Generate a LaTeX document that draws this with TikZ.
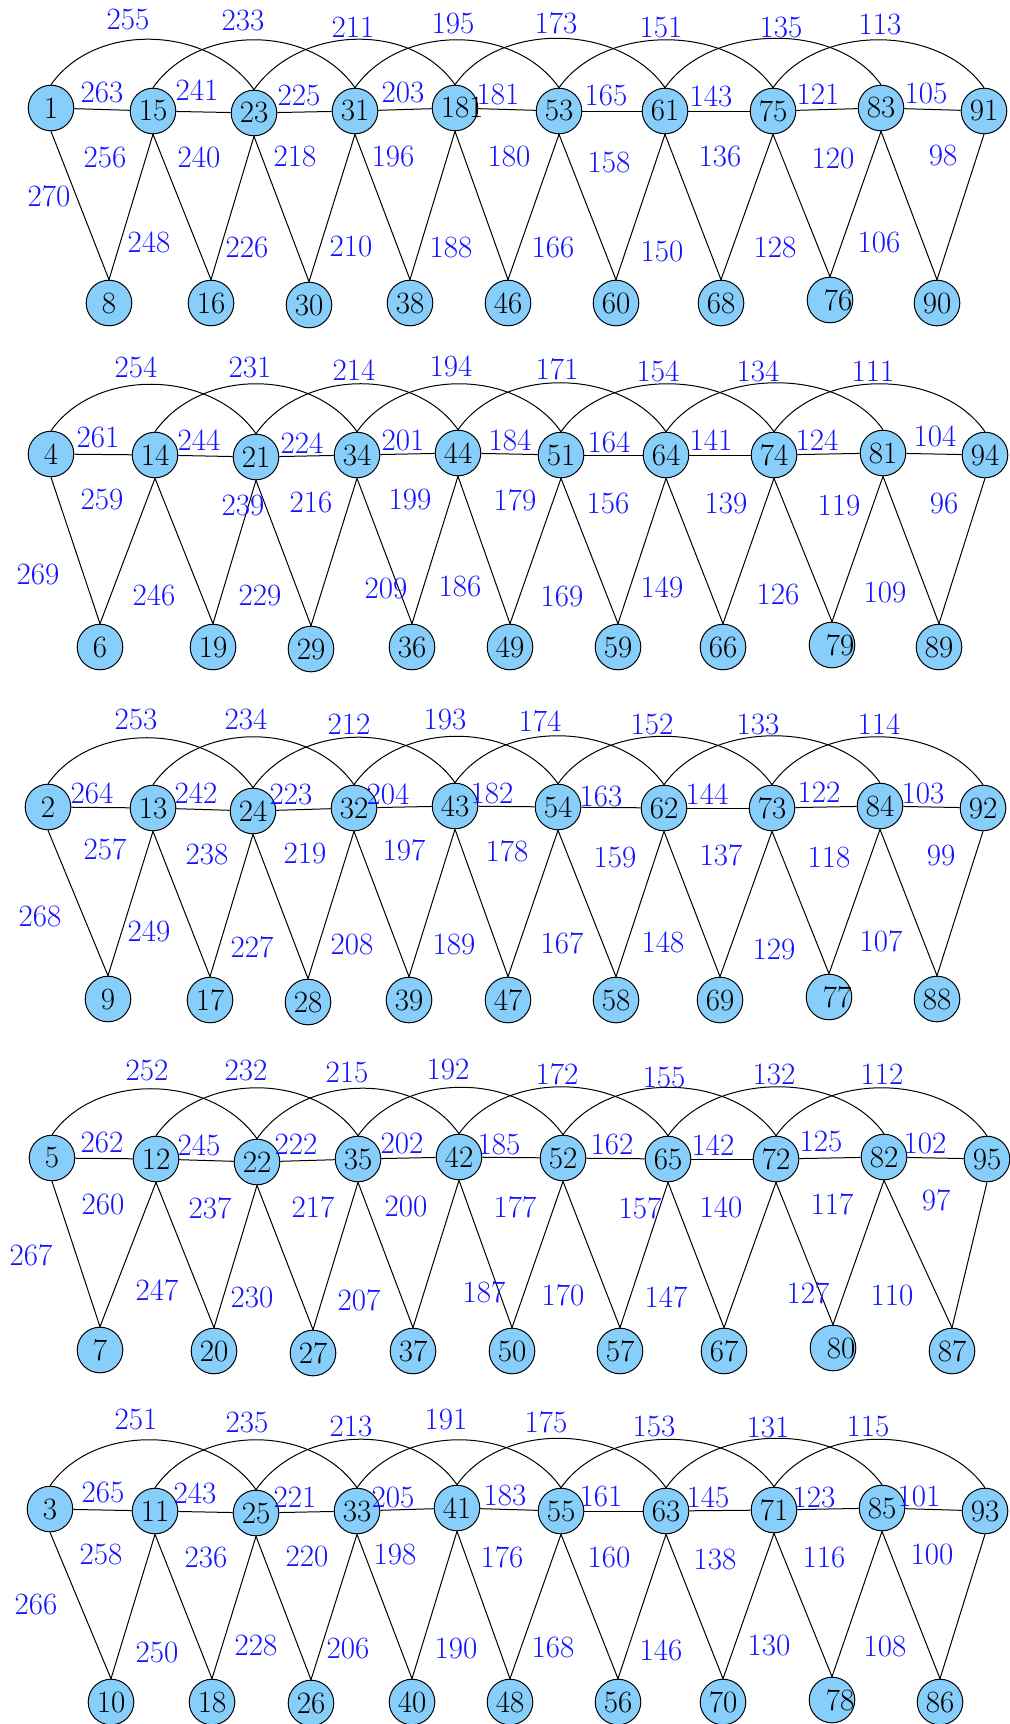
\documentclass[tikz,border=0pt]{standalone}
\usetikzlibrary{backgrounds}
\definecolor{skyb}{RGB}{135,206,250}
\definecolor{lblue}{RGB}{20,20,255}
\tikzset{
  vtx/.style={circle, draw=black, fill=skyb, line width=0.5pt, minimum size=22.8pt, inner sep=0pt, font=\fontsize{15.5}{18}\selectfont},
  lbl/.style={text=lblue, inner sep=0pt, font=\fontsize{15.5}{18}\selectfont},
  conn/.style={line width=0.5pt, black},
}
\newcommand\lab[3]{\node[lbl] (l#3) at (#1,#2) {#3};}
\newcommand\sh[1]{\makebox[0pt]{\kern8pt #1}}
\begin{document}
\begin{tikzpicture}[x=0.5pt,y=-0.5pt]
\useasboundingbox (0,0) rectangle (1009,1724);
% ---------- row 1
\node[vtx] (r1t1) at (51,108) {1};
\node[vtx] (r1t2) at (153,111) {15};
\node[vtx] (r1t3) at (254,113) {23};
\node[vtx] (r1t4) at (355,111) {31};
\node[vtx] (r1t5) at (455,108) {18\rlap{1}};
\node[vtx] (r1t6) at (559,111) {53};
\node[vtx] (r1t7) at (665,111) {61};
\node[vtx] (r1t8) at (773,111) {75};
\node[vtx] (r1t9) at (881,108) {83};
\node[vtx] (r1t10) at (984,111) {91};
\node[vtx] (r1b1) at (109,303) {8};
\node[vtx] (r1b2) at (211,303) {16};
\node[vtx] (r1b3) at (309,305) {30};
\node[vtx] (r1b4) at (410,303) {38};
\node[vtx] (r1b5) at (508,303) {46};
\node[vtx] (r1b6) at (616,303) {60};
\node[vtx] (r1b7) at (721,303) {68};
\node[vtx] (r1b8) at (830,300) {\sh{76}};
\node[vtx] (r1b9) at (937,303) {90};
% ---------- row 2
\node[vtx] (r2t1) at (51,454) {4};
\node[vtx] (r2t2) at (155,455) {14};
\node[vtx] (r2t3) at (256,457) {21};
\node[vtx] (r2t4) at (357,455) {34};
\node[vtx] (r2t5) at (458,453) {44};
\node[vtx] (r2t6) at (561,455) {51};
\node[vtx] (r2t7) at (666,455) {64};
\node[vtx] (r2t8) at (774,455) {74};
\node[vtx] (r2t9) at (883,453) {81};
\node[vtx] (r2t10) at (985,455) {94};
\node[vtx] (r2b1) at (100,647) {6};
\node[vtx] (r2b2) at (213,647) {19};
\node[vtx] (r2b3) at (311,649) {29};
\node[vtx] (r2b4) at (412,647) {36};
\node[vtx] (r2b5) at (510,647) {49};
\node[vtx] (r2b6) at (618,647) {59};
\node[vtx] (r2b7) at (723,647) {66};
\node[vtx] (r2b8) at (832,645) {\sh{79}};
\node[vtx] (r2b9) at (939,647) {89};
% ---------- row 3
\node[vtx] (r3t1) at (48,807) {2};
\node[vtx] (r3t2) at (153,808) {13};
\node[vtx] (r3t3) at (253,811) {24};
\node[vtx] (r3t4) at (354,808) {32};
\node[vtx] (r3t5) at (455,806) {43};
\node[vtx] (r3t6) at (558,807) {54};
\node[vtx] (r3t7) at (664,808) {62};
\node[vtx] (r3t8) at (772,808) {73};
\node[vtx] (r3t9) at (880,806) {84};
\node[vtx] (r3t10) at (983,808) {92};
\node[vtx] (r3b1) at (108,999) {9};
\node[vtx] (r3b2) at (210,1000) {17};
\node[vtx] (r3b3) at (308,1002) {28};
\node[vtx] (r3b4) at (409,1000) {39};
\node[vtx] (r3b5) at (508,1000) {47};
\node[vtx] (r3b6) at (616,1000) {58};
\node[vtx] (r3b7) at (720,1000) {69};
\node[vtx] (r3b8) at (829,997) {\sh{77}};
\node[vtx] (r3b9) at (937,999) {88};
% ---------- row 4
\node[vtx] (r4t1) at (52,1158) {5};
\node[vtx] (r4t2) at (156,1159) {12};
\node[vtx] (r4t3) at (257,1162) {22};
\node[vtx] (r4t4) at (358,1159) {35};
\node[vtx] (r4t5) at (459,1157) {42};
\node[vtx] (r4t6) at (563,1158) {52};
\node[vtx] (r4t7) at (668,1159) {65};
\node[vtx] (r4t8) at (776,1159) {72};
\node[vtx] (r4t9) at (884,1157) {82};
\node[vtx] (r4t10) at (987,1159) {95};
\node[vtx] (r4b1) at (100,1350) {7};
\node[vtx] (r4b2) at (214,1351) {20};
\node[vtx] (r4b3) at (313,1353) {27};
\node[vtx] (r4b4) at (413,1351) {37};
\node[vtx] (r4b5) at (512,1351) {50};
\node[vtx] (r4b6) at (620,1351) {57};
\node[vtx] (r4b7) at (724,1351) {67};
\node[vtx] (r4b8) at (833,1348) {\sh{80}};
\node[vtx] (r4b9) at (952,1351) {87};
% ---------- row 5
\node[vtx] (r5t1) at (50,1509) {3};
\node[vtx] (r5t2) at (155,1511) {11};
\node[vtx] (r5t3) at (256,1513) {25};
\node[vtx] (r5t4) at (357,1511) {33};
\node[vtx] (r5t5) at (457,1508) {41};
\node[vtx] (r5t6) at (561,1511) {55};
\node[vtx] (r5t7) at (666,1511) {63};
\node[vtx] (r5t8) at (774,1510) {71};
\node[vtx] (r5t9) at (882,1508) {85};
\node[vtx] (r5t10) at (985,1511) {93};
\node[vtx] (r5b1) at (111,1702) {10};
\node[vtx] (r5b2) at (212,1702) {18};
\node[vtx] (r5b3) at (311,1703) {26};
\node[vtx] (r5b4) at (412,1702) {40};
\node[vtx] (r5b5) at (510,1702) {48};
\node[vtx] (r5b6) at (618,1702) {56};
\node[vtx] (r5b7) at (723,1702) {70};
\node[vtx] (r5b8) at (832,1700) {\sh{78}};
\node[vtx] (r5b9) at (940,1702) {86};
% ---------- connectors (behind the vertices)
\begin{scope}[on background layer]
\fill[white] (0,0) rectangle (1009,1724);
\foreach \r in {1,...,5}{
  \foreach \i [evaluate=\i as \j using int(\i+1)] in {1,...,9}{
    \draw[conn] (r\r t\i) -- (r\r t\j);
    \draw[conn] (r\r t\i.south) -- (r\r b\i.north);
    \draw[conn] (r\r t\j.south) -- (r\r b\i.north);
  }
  \foreach \i [evaluate=\i as \k using int(\i+2)] in {1,...,8}{
    \draw[conn] (r\r t\i.north) .. controls +(-55:78) and +(-125:78) .. (r\r t\k.north);
  }
}
\end{scope}
% ---------- labels row 1
\lab{128}{20}{255}\lab{243}{21}{233}\lab{353}{27}{211}\lab{453}{24}{195}\lab{556}{23}{173}\lab{661}{28}{151}\lab{781}{28}{135}\lab{880}{25}{113}
\lab{102}{93}{263}\lab{197}{90}{241}\lab{299}{96}{225}\lab{403}{93}{203}\lab{498}{95}{181}\lab{606}{96}{165}\lab{711}{96}{143}\lab{818}{94}{121}\lab{926}{94}{105}
\lab{105}{158}{256}\lab{199}{157}{240}\lab{295}{157}{218}\lab{393}{156}{196}\lab{509}{156}{180}\lab{609}{162}{158}\lab{720}{157}{136}\lab{833}{159}{120}\lab{943}{155}{98}
\lab{49}{196}{270}\lab{149}{242}{248}\lab{247}{248}{226}\lab{351}{246}{210}\lab{451}{248}{188}\lab{553}{248}{166}\lab{662}{251}{150}\lab{775}{247}{128}\lab{879}{242}{106}
% ---------- labels row 2
\lab{136}{367}{254}\lab{250}{367}{231}\lab{354}{370}{214}\lab{451}{366}{194}\lab{557}{369}{171}\lab{658}{371}{154}\lab{758}{371}{134}\lab{873}{371}{111}
\lab{98}{437}{261}\lab{199}{440}{244}\lab{302}{443}{224}\lab{403}{440}{201}\lab{510}{440}{184}\lab{609}{442}{164}\lab{711}{440}{141}\lab{817}{440}{124}\lab{935}{436}{104}
\lab{102}{499}{259}\lab{243}{505}{239}\lab{311}{502}{216}\lab{410}{499}{199}\lab{515}{500}{179}\lab{608}{503}{156}\lab{726}{503}{139}\lab{839}{505}{119}\lab{944}{503}{96}
\lab{38}{574}{269}\lab{154}{595}{246}\lab{260}{595}{229}\lab{386}{588}{209}\lab{460}{586}{186}\lab{562}{596}{169}\lab{662}{587}{149}\lab{778}{594}{126}\lab{885}{592}{109}
% ---------- labels row 3
\lab{136}{719}{253}\lab{246}{719}{234}\lab{349}{724}{212}\lab{445}{719}{193}\lab{540}{721}{174}\lab{652}{724}{152}\lab{758}{724}{133}\lab{879}{724}{114}
\lab{92}{793}{264}\lab{196}{793}{242}\lab{291}{794}{223}\lab{388}{794}{204}\lab{492}{793}{182}\lab{601}{796}{163}\lab{707}{794}{144}\lab{819}{792}{122}\lab{923}{793}{103}
\lab{105}{849}{257}\lab{207}{854}{238}\lab{305}{853}{219}\lab{404}{850}{197}\lab{507}{851}{178}\lab{615}{857}{159}\lab{721}{855}{137}\lab{829}{857}{118}\lab{941}{855}{99}
\lab{40}{916}{268}\lab{149}{931}{249}\lab{252}{947}{227}\lab{352}{944}{208}\lab{454}{944}{189}\lab{562}{943}{167}\lab{663}{942}{148}\lab{774}{949}{129}\lab{881}{941}{107}
% ---------- labels row 4
\lab{147}{1070}{252}\lab{246}{1070}{232}\lab{347}{1072}{215}\lab{448}{1069}{192}\lab{557}{1074}{172}\lab{664}{1077}{155}\lab{774}{1074}{132}\lab{882}{1074}{112}
\lab{102}{1142}{262}\lab{199}{1145}{245}\lab{296}{1144}{222}\lab{402}{1143}{202}\lab{499}{1144}{185}\lab{612}{1144}{162}\lab{713}{1145}{142}\lab{821}{1141}{125}\lab{925}{1143}{102}
\lab{103}{1204}{260}\lab{210}{1208}{237}\lab{313}{1207}{217}\lab{406}{1206}{200}\lab{515}{1207}{177}\lab{640}{1208}{157}\lab{721}{1207}{140}\lab{832}{1204}{117}\lab{936}{1200}{97}
\lab{31}{1255}{267}\lab{157}{1290}{247}\lab{252}{1297}{230}\lab{359}{1300}{207}\lab{484}{1292}{187}\lab{563}{1295}{170}\lab{666}{1297}{147}\lab{808}{1293}{127}\lab{892}{1295}{110}
% ---------- labels row 5
\lab{136}{1419}{251}\lab{247}{1422}{235}\lab{351}{1426}{213}\lab{446}{1419}{191}\lab{546}{1422}{175}\lab{654}{1426}{153}\lab{768}{1427}{131}\lab{868}{1426}{115}
\lab{103}{1492}{265}\lab{195}{1493}{243}\lab{295}{1497}{221}\lab{393}{1497}{205}\lab{505}{1495}{183}\lab{601}{1496}{161}\lab{708}{1497}{145}\lab{814}{1497}{123}\lab{919}{1496}{101}
\lab{101}{1554}{258}\lab{206}{1557}{236}\lab{307}{1556}{220}\lab{395}{1554}{198}\lab{502}{1557}{176}\lab{609}{1557}{160}\lab{715}{1559}{138}\lab{824}{1557}{116}\lab{932}{1554}{100}
\lab{36}{1604}{266}\lab{157}{1652}{250}\lab{256}{1645}{228}\lab{348}{1648}{206}\lab{456}{1648}{190}\lab{553}{1647}{168}\lab{661}{1650}{146}\lab{769}{1645}{130}\lab{885}{1646}{108}
\end{tikzpicture}
\end{document}
